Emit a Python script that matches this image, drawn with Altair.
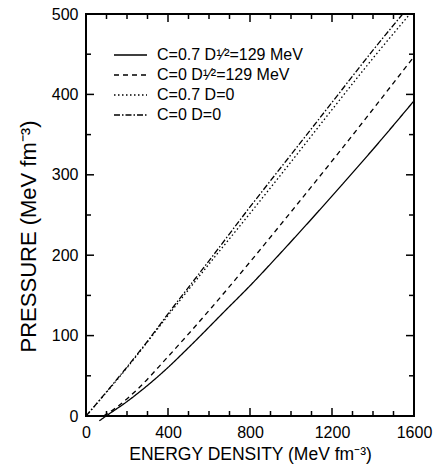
import altair as alt
import pandas as pd

FONT = "Liberation Sans"

# ---- data ----
series_names = [
    "C=0.7 D\u00b9\u2044\u00b2=129 MeV",
    "C=0 D\u00b9\u2044\u00b2=129 MeV",
    "C=0.7 D=0",
    "C=0 D=0",
]

s1_eps = [65, 98, 195, 300, 390, 500, 683, 800, 943, 1100, 1250, 1401, 1600]
s1_p = [-6, 0, 17, 38, 58, 85, 132, 162, 201, 245, 288, 332, 392]

s2_eps = [85, 150, 250, 390, 613, 808, 943, 1231, 1600]
s2_p = [0, 11, 33, 71, 135, 194, 236, 327, 447]

s3_eps = [0, 200, 400, 600, 800, 1000, 1200, 1400, 1580]
s3_p = [0, 60, 125, 189, 252, 316, 381, 445, 500]

s4_eps = [0, 100, 200, 300, 400, 600, 800, 1000, 1200, 1400, 1545]
s4_p = [0, 30, 61, 93, 127, 193, 260, 325, 390, 455, 500]

x_major = [0, 400, 800, 1200, 1600]
x_minor = [100, 200, 300, 500, 600, 700, 900, 1000, 1100, 1300, 1400, 1500]
y_major = [0, 100, 200, 300, 400, 500]
y_minor = [50, 150, 250, 350, 450]

# ---- build table ----
rows = []
for name, xs, ys in zip(series_names, [s1_eps, s2_eps, s3_eps, s4_eps], [s1_p, s2_p, s3_p, s4_p]):
    for i, (a, b) in enumerate(zip(xs, ys)):
        rows.append({"eps": a, "p": b, "series": name, "i": i})
df = pd.DataFrame(rows)

W, H = 328, 402
MAJ, MIN = 8, 5

xscale = alt.Scale(domain=[0, 1600], nice=False, zero=False)
yscale = alt.Scale(domain=[0, 500], nice=False, zero=False)

XTITLE = "ENERGY DENSITY (MeV fm\u207b\u00b3)"
YTITLE = "PRESSURE (MeV fm\u207b\u00b3)"


def make_xaxis(color):
    return alt.Axis(
        values=x_major, format="d", ticks=False, domain=False, grid=False,
        labels=True, labelFlush=False, labelFont=FONT, labelFontSize=16,
        labelFontWeight=400, labelColor=color, labelPadding=8,
        title=XTITLE, titleFont=FONT, titleFontSize=17.5, titleFontWeight=400,
        titleColor=color, titlePadding=5,
    )


def make_yaxis(color):
    return alt.Axis(
        values=y_major, format="d", ticks=False, domain=False, grid=False,
        labels=True, labelFlush=False, labelFont=FONT, labelFontSize=16,
        labelFontWeight=400, labelColor=color, labelPadding=8,
        title=YTITLE, titleFont=FONT, titleFontSize=22, titleFontWeight=400,
        titleColor=color, titleX=-58, titleY=222, titleBaseline="middle",
        titleAlign="center", titleAngle=270,
    )


xaxis = make_xaxis("black")
yaxis = make_yaxis("black")
xaxis_hidden = make_xaxis("transparent")
yaxis_hidden = make_yaxis("transparent")

lines = alt.Chart(df).mark_line(strokeWidth=1.3, color="black", interpolate="monotone").encode(
    x=alt.X("eps:Q", scale=xscale, axis=xaxis),
    y=alt.Y("p:Q", scale=yscale, axis=yaxis),
    order="i:Q",
    strokeDash=alt.StrokeDash(
        "series:N",
        sort=series_names,
        scale=alt.Scale(domain=series_names,
                        range=[[1, 0], [5, 4], [1.5, 2.5], [6, 2, 1.5, 2]]),
        legend=alt.Legend(
            title=None, orient="none", legendX=27, legendY=31,
            symbolType="stroke", symbolSize=1089, symbolStrokeWidth=1.3,
            symbolStrokeColor="black", labelFont=FONT, labelFontSize=16,
            labelColor="black", labelOffset=9, clipHeight=20, rowPadding=0,
            padding=0,
        ),
    ),
)


def xticks(vals, length):
    d = pd.DataFrame({"eps": vals})
    bottom = alt.Chart(d).mark_rule(color="black", strokeWidth=1.5).encode(
        x=alt.X("eps:Q", scale=xscale, axis=xaxis_hidden),
        y=alt.value(H), y2=alt.value(H - length))
    top = alt.Chart(d).mark_rule(color="black", strokeWidth=1.5).encode(
        x=alt.X("eps:Q", scale=xscale, axis=xaxis_hidden),
        y=alt.value(0), y2=alt.value(length))
    return [bottom, top]


def yticks(vals, length):
    d = pd.DataFrame({"p": vals})
    left = alt.Chart(d).mark_rule(color="black", strokeWidth=1.5).encode(
        y=alt.Y("p:Q", scale=yscale, axis=yaxis_hidden),
        x=alt.value(0), x2=alt.value(length))
    right = alt.Chart(d).mark_rule(color="black", strokeWidth=1.5).encode(
        y=alt.Y("p:Q", scale=yscale, axis=yaxis_hidden),
        x=alt.value(W), x2=alt.value(W - length))
    return [left, right]


layers = [lines] + xticks(x_major, MAJ) + xticks(x_minor, MIN) + yticks(y_major, MAJ) + yticks(y_minor, MIN)

chart = alt.layer(*layers).properties(
    width=W, height=H,
    autosize="none",
    background="white",
    padding={"left": 86, "top": 14, "right": 24, "bottom": 55},
).configure_view(
    stroke="black", strokeWidth=2
).configure_axis(
    titleFontWeight=400, labelFontWeight=400
)

chart.save("out.html", embed_options={"renderer": "svg", "actions": False})
